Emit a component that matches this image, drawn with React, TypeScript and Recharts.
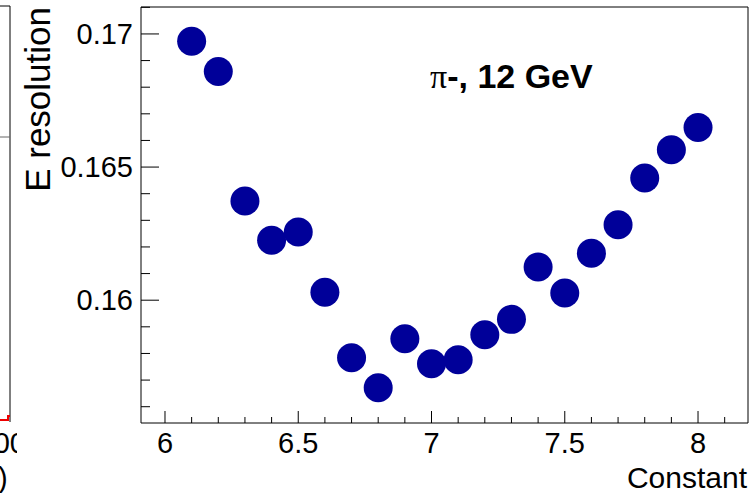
import { ScatterChart, Scatter, XAxis, YAxis, ReferenceArea } from 'recharts';

const constants = [6.1, 6.2, 6.3, 6.4, 6.5, 6.6, 6.7, 6.8, 6.9, 7.0, 7.1, 7.2, 7.3, 7.4, 7.5, 7.6, 7.7, 7.8, 7.9, 8.0];
const resolution = [
  0.16973, 0.16859, 0.16373, 0.16225, 0.16256, 0.1603, 0.15784, 0.15671, 0.15855, 0.15761,
  0.15776, 0.1587, 0.15928, 0.16125, 0.16027, 0.16176, 0.16283, 0.16459, 0.16565, 0.16649,
];

const xTicks = [6.0, 6.1, 6.2, 6.3, 6.4, 6.5, 6.6, 6.7, 6.8, 6.9, 7.0, 7.1, 7.2, 7.3, 7.4, 7.5, 7.6, 7.7, 7.8, 7.9, 8.0, 8.1];
const xMajor = ['6', '6.5', '7', '7.5', '8'];
const yTicks = [0.156, 0.157, 0.158, 0.159, 0.16, 0.161, 0.162, 0.163, 0.164, 0.165, 0.166, 0.167, 0.168, 0.169, 0.17, 0.171];
const yMajor = ['0.16', '0.165', '0.17'];

const xDomain = [5.91, 8.1875];
const yDomain = [0.155388, 0.171012];

const data = constants.map((c, i) => ({ c, r: resolution[i] }));

const FONT = '"Liberation Sans", Arial, Helvetica, sans-serif';

const XTick = (props: any) => {
  const { x, y, payload } = props;
  const label = String(+payload.value.toFixed(3));
  const major = xMajor.includes(label);
  return (
    <g>
      <line x1={x} x2={x} y1={y} y2={y - (major ? 12 : 6)} stroke="#000" strokeWidth={1} />
      {major && (
        <text x={x} y={y + 30} textAnchor="middle" fontSize={29} fontFamily={FONT} fill="#000">
          {label}
        </text>
      )}
    </g>
  );
};

const YTick = (props: any) => {
  const { x, y, payload } = props;
  const label = String(+payload.value.toFixed(4));
  const major = yMajor.includes(label);
  return (
    <g>
      <line x1={x} x2={x + (major ? 18 : 9)} y1={y} y2={y} stroke="#000" strokeWidth={1} />
      {major && (
        <text x={x - 8} y={y + 10} textAnchor="end" fontSize={29} fontFamily={FONT} fill="#000">
          {label}
        </text>
      )}
    </g>
  );
};

const Dot = (props: any) => <circle cx={props.cx} cy={props.cy} r={14.5} fill="#000099" />;

export default function App() {
  return (
    <div style={{ position: 'absolute', left: 0, top: 0, width: 756, height: 493, background: '#fff', overflow: 'hidden' }}>
      <ScatterChart width={756} height={493} margin={{ top: 7, right: 8, bottom: 0, left: 0 }}>
        <XAxis
          type="number"
          dataKey="c"
          domain={xDomain}
          ticks={xTicks}
          interval={0}
          allowDataOverflow
          axisLine={false}
          tickLine={false}
          tickSize={0}
          tickMargin={0}
          height={70}
          tick={<XTick />}
        />
        <YAxis
          type="number"
          dataKey="r"
          domain={yDomain}
          ticks={yTicks}
          interval={0}
          allowDataOverflow
          axisLine={false}
          tickLine={false}
          tickSize={0}
          tickMargin={0}
          width={141}
          tick={<YTick />}
        />
        <ReferenceArea
          x1={xDomain[0]}
          x2={xDomain[1]}
          y1={yDomain[0]}
          y2={yDomain[1]}
          fill="none"
          stroke="#000"
          strokeWidth={1}
          ifOverflow="visible"
        />
        <Scatter data={data} shape={<Dot />} isAnimationActive={false} />
      </ScatterChart>
      <svg width={756} height={493} style={{ position: 'absolute', left: 0, top: 0, pointerEvents: 'none' }}>
        <text x={747} y={488} textAnchor="end" fontSize={30} fontFamily={FONT} fill="#000">
          Constant
        </text>
        <text transform="translate(50,7) rotate(-90)" textAnchor="end" fontSize={35} fontFamily={FONT} fill="#000">
          E resolution
        </text>
        <text x={430} y={88} fontSize={34} fontFamily={FONT} fontWeight="bold" fill="#000">
          <tspan fontFamily='"Liberation Serif", "DejaVu Serif", serif' fontWeight="normal">π</tspan>
          -, 12 GeV
        </text>
        {/* edge of the neighbouring pad */}
        <line x1={0} x2={10} y1={6} y2={6} stroke="#000" />
        <line x1={10} x2={10} y1={6} y2={422} stroke="#000" />
        <line x1={0} x2={10} y1={137} y2={137} stroke="#666" />
        <polyline points="0,420 8,420 8,416 10,416" fill="none" stroke="#e00" strokeWidth={2} />
        <clipPath id="edge">
          <rect x={0} y={420} width={17} height={73} />
        </clipPath>
        <g clipPath="url(#edge)">
          <text x={17} y={453} textAnchor="end" fontSize={29} fontFamily={FONT} fill="#000" dx={9}>
            00
          </text>
          <text x={-2} y={488} fontSize={29} fontFamily={FONT} fill="#000">
            )
          </text>
        </g>
      </svg>
    </div>
  );
}
